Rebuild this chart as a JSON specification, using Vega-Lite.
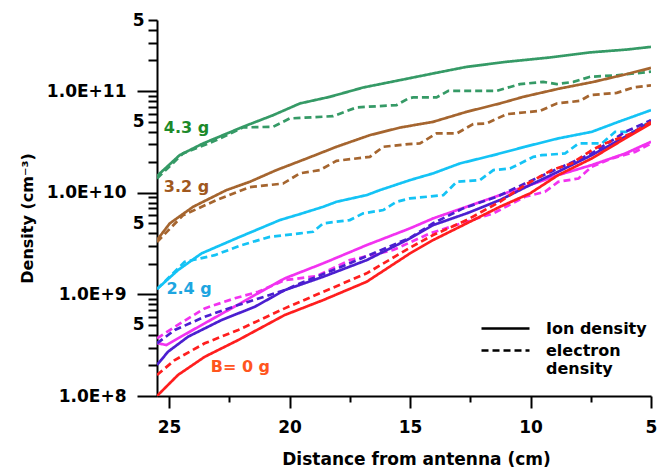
{
  "$schema": "https://vega.github.io/schema/vega-lite/v6.json",
  "width": 494,
  "height": 376,
  "autosize": {"type": "none"},
  "padding": {"left": 157, "top": 20, "right": 7, "bottom": 76},
  "background": "white",
  "config": {"view": {"stroke": null}, "font": "DejaVu Sans"},
  "datasets": {
    "lines": [
      {"B": "4.3 g", "t": "Ion density", "x": 25.5, "y": 1.46e10},
      {"B": "4.3 g", "t": "Ion density", "x": 24.56, "y": 2.34e10},
      {"B": "4.3 g", "t": "Ion density", "x": 23.59, "y": 3.05e10},
      {"B": "4.3 g", "t": "Ion density", "x": 21.93, "y": 4.45e10},
      {"B": "4.3 g", "t": "Ion density", "x": 20.68, "y": 5.79e10},
      {"B": "4.3 g", "t": "Ion density", "x": 19.57, "y": 7.55e10},
      {"B": "4.3 g", "t": "Ion density", "x": 18.33, "y": 8.77e10},
      {"B": "4.3 g", "t": "Ion density", "x": 16.94, "y": 1.084e11},
      {"B": "4.3 g", "t": "Ion density", "x": 15.42, "y": 1.28e11},
      {"B": "4.3 g", "t": "Ion density", "x": 14.04, "y": 1.49e11},
      {"B": "4.3 g", "t": "Ion density", "x": 12.65, "y": 1.73e11},
      {"B": "4.3 g", "t": "Ion density", "x": 10.99, "y": 1.94e11},
      {"B": "4.3 g", "t": "Ion density", "x": 9.19, "y": 2.14e11},
      {"B": "4.3 g", "t": "Ion density", "x": 7.53, "y": 2.40e11},
      {"B": "4.3 g", "t": "Ion density", "x": 6.0, "y": 2.56e11},
      {"B": "4.3 g", "t": "Ion density", "x": 5.0, "y": 2.72e11},

      {"B": "4.3 g", "t": "electron density", "x": 25.5, "y": 1.38e10},
      {"B": "4.3 g", "t": "electron density", "x": 24.42, "y": 2.43e10},
      {"B": "4.3 g", "t": "electron density", "x": 23.03, "y": 3.29e10},
      {"B": "4.3 g", "t": "electron density", "x": 21.93, "y": 4.39e10},
      {"B": "4.3 g", "t": "electron density", "x": 20.68, "y": 4.45e10},
      {"B": "4.3 g", "t": "electron density", "x": 19.99, "y": 5.38e10},
      {"B": "4.3 g", "t": "electron density", "x": 18.19, "y": 5.66e10},
      {"B": "4.3 g", "t": "electron density", "x": 17.22, "y": 6.90e10},
      {"B": "4.3 g", "t": "electron density", "x": 15.56, "y": 7.27e10},
      {"B": "4.3 g", "t": "electron density", "x": 15.07, "y": 8.46e10},
      {"B": "4.3 g", "t": "electron density", "x": 14.87, "y": 8.65e10},
      {"B": "4.3 g", "t": "electron density", "x": 13.9, "y": 8.65e10},
      {"B": "4.3 g", "t": "electron density", "x": 13.41, "y": 1.005e11},
      {"B": "4.3 g", "t": "electron density", "x": 11.4, "y": 1.005e11},
      {"B": "4.3 g", "t": "electron density", "x": 10.44, "y": 1.17e11},
      {"B": "4.3 g", "t": "electron density", "x": 9.47, "y": 1.23e11},
      {"B": "4.3 g", "t": "electron density", "x": 8.91, "y": 1.17e11},
      {"B": "4.3 g", "t": "electron density", "x": 8.22, "y": 1.23e11},
      {"B": "4.3 g", "t": "electron density", "x": 7.53, "y": 1.38e11},
      {"B": "4.3 g", "t": "electron density", "x": 6.42, "y": 1.43e11},
      {"B": "4.3 g", "t": "electron density", "x": 5.0, "y": 1.55e11},

      {"B": "3.2 g", "t": "Ion density", "x": 25.5, "y": 3.42e9},
      {"B": "3.2 g", "t": "Ion density", "x": 24.97, "y": 4.99e9},
      {"B": "3.2 g", "t": "Ion density", "x": 24.0, "y": 7.27e9},
      {"B": "3.2 g", "t": "Ion density", "x": 22.62, "y": 1.06e10},
      {"B": "3.2 g", "t": "Ion density", "x": 21.65, "y": 1.28e10},
      {"B": "3.2 g", "t": "Ion density", "x": 20.54, "y": 1.67e10},
      {"B": "3.2 g", "t": "Ion density", "x": 19.29, "y": 2.17e10},
      {"B": "3.2 g", "t": "Ion density", "x": 18.05, "y": 2.83e10},
      {"B": "3.2 g", "t": "Ion density", "x": 16.67, "y": 3.68e10},
      {"B": "3.2 g", "t": "Ion density", "x": 15.42, "y": 4.37e10},
      {"B": "3.2 g", "t": "Ion density", "x": 14.04, "y": 4.98e10},
      {"B": "3.2 g", "t": "Ion density", "x": 12.65, "y": 6.25e10},
      {"B": "3.2 g", "t": "Ion density", "x": 11.27, "y": 7.55e10},
      {"B": "3.2 g", "t": "Ion density", "x": 10.3, "y": 8.77e10},
      {"B": "3.2 g", "t": "Ion density", "x": 8.78, "y": 1.06e11},
      {"B": "3.2 g", "t": "Ion density", "x": 7.39, "y": 1.23e11},
      {"B": "3.2 g", "t": "Ion density", "x": 6.0, "y": 1.47e11},
      {"B": "3.2 g", "t": "Ion density", "x": 5.0, "y": 1.69e11},

      {"B": "3.2 g", "t": "electron density", "x": 25.5, "y": 3.27e9},
      {"B": "3.2 g", "t": "electron density", "x": 24.42, "y": 6.0e9},
      {"B": "3.2 g", "t": "electron density", "x": 23.03, "y": 8.46e9},
      {"B": "3.2 g", "t": "electron density", "x": 21.65, "y": 1.135e10},
      {"B": "3.2 g", "t": "electron density", "x": 20.27, "y": 1.23e10},
      {"B": "3.2 g", "t": "electron density", "x": 19.57, "y": 1.55e10},
      {"B": "3.2 g", "t": "electron density", "x": 18.74, "y": 1.67e10},
      {"B": "3.2 g", "t": "electron density", "x": 18.05, "y": 2.06e10},
      {"B": "3.2 g", "t": "electron density", "x": 16.67, "y": 2.25e10},
      {"B": "3.2 g", "t": "electron density", "x": 16.11, "y": 2.83e10},
      {"B": "3.2 g", "t": "electron density", "x": 15.07, "y": 3.01e10},
      {"B": "3.2 g", "t": "electron density", "x": 14.59, "y": 3.05e10},
      {"B": "3.2 g", "t": "electron density", "x": 13.9, "y": 3.83e10},
      {"B": "3.2 g", "t": "electron density", "x": 13.06, "y": 3.83e10},
      {"B": "3.2 g", "t": "electron density", "x": 12.38, "y": 4.73e10},
      {"B": "3.2 g", "t": "electron density", "x": 11.82, "y": 4.8e10},
      {"B": "3.2 g", "t": "electron density", "x": 10.99, "y": 5.93e10},
      {"B": "3.2 g", "t": "electron density", "x": 9.61, "y": 6.38e10},
      {"B": "3.2 g", "t": "electron density", "x": 8.91, "y": 7.55e10},
      {"B": "3.2 g", "t": "electron density", "x": 7.94, "y": 8.01e10},
      {"B": "3.2 g", "t": "electron density", "x": 7.53, "y": 9.12e10},
      {"B": "3.2 g", "t": "electron density", "x": 6.42, "y": 9.6e10},
      {"B": "3.2 g", "t": "electron density", "x": 5.73, "y": 1.084e11},
      {"B": "3.2 g", "t": "electron density", "x": 5.0, "y": 1.14e11},

      {"B": "2.4 g", "t": "Ion density", "x": 25.5, "y": 1.127e9},
      {"B": "2.4 g", "t": "Ion density", "x": 24.63, "y": 1.73e9},
      {"B": "2.4 g", "t": "Ion density", "x": 23.65, "y": 2.53e9},
      {"B": "2.4 g", "t": "Ion density", "x": 22.13, "y": 3.62e9},
      {"B": "2.4 g", "t": "Ion density", "x": 20.4, "y": 5.38e9},
      {"B": "2.4 g", "t": "Ion density", "x": 19.57, "y": 6.16e9},
      {"B": "2.4 g", "t": "Ion density", "x": 18.6, "y": 7.27e9},
      {"B": "2.4 g", "t": "Ion density", "x": 18.05, "y": 8.14e9},
      {"B": "2.4 g", "t": "Ion density", "x": 16.8, "y": 9.47e9},
      {"B": "2.4 g", "t": "Ion density", "x": 16.25, "y": 1.06e10},
      {"B": "2.4 g", "t": "Ion density", "x": 15.0, "y": 1.33e10},
      {"B": "2.4 g", "t": "Ion density", "x": 14.04, "y": 1.55e10},
      {"B": "2.4 g", "t": "Ion density", "x": 12.93, "y": 1.94e10},
      {"B": "2.4 g", "t": "Ion density", "x": 11.54, "y": 2.34e10},
      {"B": "2.4 g", "t": "Ion density", "x": 10.23, "y": 2.83e10},
      {"B": "2.4 g", "t": "Ion density", "x": 8.85, "y": 3.42e10},
      {"B": "2.4 g", "t": "Ion density", "x": 7.46, "y": 3.97e10},
      {"B": "2.4 g", "t": "Ion density", "x": 6.35, "y": 4.98e10},
      {"B": "2.4 g", "t": "Ion density", "x": 5.0, "y": 6.49e10},

      {"B": "2.4 g", "t": "electron density", "x": 25.5, "y": 1.127e9},
      {"B": "2.4 g", "t": "electron density", "x": 24.35, "y": 2.09e9},
      {"B": "2.4 g", "t": "electron density", "x": 23.1, "y": 2.43e9},
      {"B": "2.4 g", "t": "electron density", "x": 21.99, "y": 3.05e9},
      {"B": "2.4 g", "t": "electron density", "x": 20.82, "y": 3.68e9},
      {"B": "2.4 g", "t": "electron density", "x": 19.57, "y": 3.98e9},
      {"B": "2.4 g", "t": "electron density", "x": 19.02, "y": 4.13e9},
      {"B": "2.4 g", "t": "electron density", "x": 18.6, "y": 4.99e9},
      {"B": "2.4 g", "t": "electron density", "x": 17.5, "y": 5.38e9},
      {"B": "2.4 g", "t": "electron density", "x": 16.94, "y": 6.26e9},
      {"B": "2.4 g", "t": "electron density", "x": 16.11, "y": 6.75e9},
      {"B": "2.4 g", "t": "electron density", "x": 15.56, "y": 8.14e9},
      {"B": "2.4 g", "t": "electron density", "x": 15.0, "y": 8.79e9},
      {"B": "2.4 g", "t": "electron density", "x": 13.62, "y": 9.47e9},
      {"B": "2.4 g", "t": "electron density", "x": 13.06, "y": 1.28e10},
      {"B": "2.4 g", "t": "electron density", "x": 12.1, "y": 1.33e10},
      {"B": "2.4 g", "t": "electron density", "x": 11.54, "y": 1.67e10},
      {"B": "2.4 g", "t": "electron density", "x": 10.85, "y": 1.73e10},
      {"B": "2.4 g", "t": "electron density", "x": 9.88, "y": 2.25e10},
      {"B": "2.4 g", "t": "electron density", "x": 9.54, "y": 2.34e10},
      {"B": "2.4 g", "t": "electron density", "x": 8.57, "y": 2.43e10},
      {"B": "2.4 g", "t": "electron density", "x": 8.01, "y": 3.05e10},
      {"B": "2.4 g", "t": "electron density", "x": 7.04, "y": 3.05e10},
      {"B": "2.4 g", "t": "electron density", "x": 6.49, "y": 3.97e10},
      {"B": "2.4 g", "t": "electron density", "x": 5.66, "y": 3.97e10},
      {"B": "2.4 g", "t": "electron density", "x": 5.0, "y": 5.17e10},

      {"B": "unlabelled 1", "t": "Ion density", "x": 25.5, "y": 3.32e8},
      {"B": "unlabelled 1", "t": "Ion density", "x": 25.11, "y": 3.17e8},
      {"B": "unlabelled 1", "t": "Ion density", "x": 24.63, "y": 3.69e8},
      {"B": "unlabelled 1", "t": "Ion density", "x": 23.52, "y": 5.19e8},
      {"B": "unlabelled 1", "t": "Ion density", "x": 22.41, "y": 7.28e8},
      {"B": "unlabelled 1", "t": "Ion density", "x": 21.44, "y": 9.84e8},
      {"B": "unlabelled 1", "t": "Ion density", "x": 20.2, "y": 1.436e9},
      {"B": "unlabelled 1", "t": "Ion density", "x": 18.6, "y": 2.02e9},
      {"B": "unlabelled 1", "t": "Ion density", "x": 16.8, "y": 3.05e9},
      {"B": "unlabelled 1", "t": "Ion density", "x": 15.0, "y": 4.46e9},
      {"B": "unlabelled 1", "t": "Ion density", "x": 14.04, "y": 5.59e9},
      {"B": "unlabelled 1", "t": "Ion density", "x": 12.65, "y": 7.27e9},
      {"B": "unlabelled 1", "t": "Ion density", "x": 11.27, "y": 9.47e9},
      {"B": "unlabelled 1", "t": "Ion density", "x": 10.02, "y": 1.19e10},
      {"B": "unlabelled 1", "t": "Ion density", "x": 8.85, "y": 1.49e10},
      {"B": "unlabelled 1", "t": "Ion density", "x": 7.46, "y": 1.87e10},
      {"B": "unlabelled 1", "t": "Ion density", "x": 6.07, "y": 2.43e10},
      {"B": "unlabelled 1", "t": "Ion density", "x": 5.0, "y": 3.17e10},

      {"B": "unlabelled 1", "t": "electron density", "x": 25.5, "y": 3.69e8},
      {"B": "unlabelled 1", "t": "electron density", "x": 24.76, "y": 4.8e8},
      {"B": "unlabelled 1", "t": "electron density", "x": 23.52, "y": 7.28e8},
      {"B": "unlabelled 1", "t": "electron density", "x": 22.27, "y": 9.14e8},
      {"B": "unlabelled 1", "t": "electron density", "x": 21.3, "y": 1.06e9},
      {"B": "unlabelled 1", "t": "electron density", "x": 20.2, "y": 1.38e9},
      {"B": "unlabelled 1", "t": "electron density", "x": 18.88, "y": 1.51e9},
      {"B": "unlabelled 1", "t": "electron density", "x": 17.5, "y": 2.17e9},
      {"B": "unlabelled 1", "t": "electron density", "x": 15.7, "y": 2.73e9},
      {"B": "unlabelled 1", "t": "electron density", "x": 14.17, "y": 3.98e9},
      {"B": "unlabelled 1", "t": "electron density", "x": 12.65, "y": 5.18e9},
      {"B": "unlabelled 1", "t": "electron density", "x": 11.54, "y": 6.26e9},
      {"B": "unlabelled 1", "t": "electron density", "x": 10.23, "y": 9.12e9},
      {"B": "unlabelled 1", "t": "electron density", "x": 9.4, "y": 1.02e10},
      {"B": "unlabelled 1", "t": "electron density", "x": 8.85, "y": 1.28e10},
      {"B": "unlabelled 1", "t": "electron density", "x": 8.01, "y": 1.38e10},
      {"B": "unlabelled 1", "t": "electron density", "x": 7.46, "y": 1.8e10},
      {"B": "unlabelled 1", "t": "electron density", "x": 6.63, "y": 2.17e10},
      {"B": "unlabelled 1", "t": "electron density", "x": 5.66, "y": 2.52e10},
      {"B": "unlabelled 1", "t": "electron density", "x": 5.0, "y": 3.05e10},

      {"B": "unlabelled 2", "t": "Ion density", "x": 25.5, "y": 2.02e8},
      {"B": "unlabelled 2", "t": "Ion density", "x": 25.04, "y": 2.73e8},
      {"B": "unlabelled 2", "t": "Ion density", "x": 24.21, "y": 3.83e8},
      {"B": "unlabelled 2", "t": "Ion density", "x": 22.82, "y": 5.59e8},
      {"B": "unlabelled 2", "t": "Ion density", "x": 21.44, "y": 7.55e8},
      {"B": "unlabelled 2", "t": "Ion density", "x": 20.2, "y": 1.1e9},
      {"B": "unlabelled 2", "t": "Ion density", "x": 18.6, "y": 1.49e9},
      {"B": "unlabelled 2", "t": "Ion density", "x": 16.8, "y": 2.17e9},
      {"B": "unlabelled 2", "t": "Ion density", "x": 15.0, "y": 3.55e9},
      {"B": "unlabelled 2", "t": "Ion density", "x": 14.04, "y": 4.8e9},
      {"B": "unlabelled 2", "t": "Ion density", "x": 12.65, "y": 6.26e9},
      {"B": "unlabelled 2", "t": "Ion density", "x": 11.27, "y": 8.46e9},
      {"B": "unlabelled 2", "t": "Ion density", "x": 10.02, "y": 1.19e10},
      {"B": "unlabelled 2", "t": "Ion density", "x": 8.85, "y": 1.61e10},
      {"B": "unlabelled 2", "t": "Ion density", "x": 7.46, "y": 2.34e10},
      {"B": "unlabelled 2", "t": "Ion density", "x": 6.07, "y": 3.55e10},
      {"B": "unlabelled 2", "t": "Ion density", "x": 5.0, "y": 4.98e10},

      {"B": "unlabelled 2", "t": "electron density", "x": 25.5, "y": 3.3e8},
      {"B": "unlabelled 2", "t": "electron density", "x": 24.76, "y": 4.46e8},
      {"B": "unlabelled 2", "t": "electron density", "x": 23.52, "y": 6.02e8},
      {"B": "unlabelled 2", "t": "electron density", "x": 22.13, "y": 7.85e8},
      {"B": "unlabelled 2", "t": "electron density", "x": 20.2, "y": 1.1e9},
      {"B": "unlabelled 2", "t": "electron density", "x": 19.57, "y": 1.28e9},
      {"B": "unlabelled 2", "t": "electron density", "x": 17.5, "y": 2.02e9},
      {"B": "unlabelled 2", "t": "electron density", "x": 15.0, "y": 3.6e9},
      {"B": "unlabelled 2", "t": "electron density", "x": 14.04, "y": 5.0e9},
      {"B": "unlabelled 2", "t": "electron density", "x": 12.8, "y": 7.01e9},
      {"B": "unlabelled 2", "t": "electron density", "x": 11.4, "y": 9.12e9},
      {"B": "unlabelled 2", "t": "electron density", "x": 10.23, "y": 1.23e10},
      {"B": "unlabelled 2", "t": "electron density", "x": 8.85, "y": 1.73e10},
      {"B": "unlabelled 2", "t": "electron density", "x": 7.46, "y": 2.43e10},
      {"B": "unlabelled 2", "t": "electron density", "x": 6.07, "y": 3.97e10},
      {"B": "unlabelled 2", "t": "electron density", "x": 5.0, "y": 5.17e10},

      {"B": "0 g", "t": "Ion density", "x": 25.5, "y": 1.0e8},
      {"B": "0 g", "t": "Ion density", "x": 24.63, "y": 1.61e8},
      {"B": "0 g", "t": "Ion density", "x": 23.52, "y": 2.43e8},
      {"B": "0 g", "t": "Ion density", "x": 22.13, "y": 3.55e8},
      {"B": "0 g", "t": "Ion density", "x": 20.2, "y": 6.26e8},
      {"B": "0 g", "t": "Ion density", "x": 18.6, "y": 8.79e8},
      {"B": "0 g", "t": "Ion density", "x": 16.8, "y": 1.33e9},
      {"B": "0 g", "t": "Ion density", "x": 15.0, "y": 2.53e9},
      {"B": "0 g", "t": "Ion density", "x": 14.04, "y": 3.42e9},
      {"B": "0 g", "t": "Ion density", "x": 12.65, "y": 4.99e9},
      {"B": "0 g", "t": "Ion density", "x": 11.27, "y": 7.27e9},
      {"B": "0 g", "t": "Ion density", "x": 10.02, "y": 9.84e9},
      {"B": "0 g", "t": "Ion density", "x": 8.85, "y": 1.49e10},
      {"B": "0 g", "t": "Ion density", "x": 7.46, "y": 2.17e10},
      {"B": "0 g", "t": "Ion density", "x": 6.07, "y": 3.42e10},
      {"B": "0 g", "t": "Ion density", "x": 5.0, "y": 4.8e10},

      {"B": "0 g", "t": "electron density", "x": 25.5, "y": 1.61e8},
      {"B": "0 g", "t": "electron density", "x": 24.76, "y": 2.26e8},
      {"B": "0 g", "t": "electron density", "x": 23.52, "y": 3.3e8},
      {"B": "0 g", "t": "electron density", "x": 22.13, "y": 4.46e8},
      {"B": "0 g", "t": "electron density", "x": 20.2, "y": 7.28e8},
      {"B": "0 g", "t": "electron density", "x": 18.6, "y": 1.06e9},
      {"B": "0 g", "t": "electron density", "x": 16.8, "y": 1.61e9},
      {"B": "0 g", "t": "electron density", "x": 15.0, "y": 2.88e9},
      {"B": "0 g", "t": "electron density", "x": 14.04, "y": 3.83e9},
      {"B": "0 g", "t": "electron density", "x": 12.65, "y": 5.38e9},
      {"B": "0 g", "t": "electron density", "x": 11.27, "y": 8.14e9},
      {"B": "0 g", "t": "electron density", "x": 10.23, "y": 1.19e10},
      {"B": "0 g", "t": "electron density", "x": 9.12, "y": 1.67e10},
      {"B": "0 g", "t": "electron density", "x": 8.29, "y": 1.94e10},
      {"B": "0 g", "t": "electron density", "x": 7.46, "y": 2.62e10},
      {"B": "0 g", "t": "electron density", "x": 6.91, "y": 3.05e10},
      {"B": "0 g", "t": "electron density", "x": 5.8, "y": 3.83e10},
      {"B": "0 g", "t": "electron density", "x": 5.0, "y": 4.98e10}
    ],
    "labels": [
      {"label": "4.3 g", "x": 25.22, "y": 4.33e10},
      {"label": "3.2 g", "x": 25.22, "y": 1.15e10},
      {"label": "2.4 g", "x": 25.11, "y": 1.14e9},
      {"label": "B= 0 g", "x": 23.27, "y": 1.91e8}
    ]
  },
  "layer": [
    {
      "data": {"name": "lines"},
      "mark": {"type": "line", "strokeWidth": 2.7, "clip": true},
      "encoding": {
        "x": {
          "field": "x",
          "type": "quantitative",
          "scale": {"domain": [5, 25.5], "reverse": true, "nice": false, "zero": false},
          "axis": {
            "values": [25, 22.5, 20, 17.5, 15, 12.5, 10, 7.5, 5],
            "labelExpr": "datum.value % 5 == 0 ? datum.label : ''",
            "tickSize": {"condition": {"test": "datum.value % 5 == 0", "value": 12}, "value": 6},
            "tickWidth": 2,
            "tickColor": "black",
            "domainWidth": 2,
            "domainColor": "black",
            "grid": false,
            "labelFlush": false,
            "labelOverlap": false,
            "labelFont": "DejaVu Sans",
            "labelFontWeight": "bold",
            "labelFontSize": 17,
            "labelColor": "black",
            "labelPadding": 11,
            "title": "Distance from antenna (cm)",
            "titleFont": "DejaVu Sans",
            "titleFontSize": 17,
            "titleFontWeight": "bold",
            "titleColor": "black",
            "titleX": 259,
            "titleY": 55
          }
        },
        "y": {
          "field": "y",
          "type": "quantitative",
          "scale": {"type": "log", "domain": [1e8, 5e11], "nice": false},
          "axis": {
            "values": [1e8, 2e8, 3e8, 4e8, 5e8, 6e8, 7e8, 8e8, 9e8, 1e9, 2e9, 3e9, 4e9, 5e9, 6e9, 7e9, 8e9, 9e9, 1e10, 2e10, 3e10, 4e10, 5e10, 6e10, 7e10, 8e10, 9e10, 1e11, 2e11, 3e11, 4e11, 5e11],
            "labelExpr": "abs(log(datum.value)/LN10 - round(log(datum.value)/LN10)) < 1e-6 ? '1.0E+' + round(log(datum.value)/LN10) : (abs(datum.value / pow(10, floor(log(datum.value)/LN10 + 1e-9)) - 5) < 1e-6 ? '5' : '')",
            "tickSize": {"condition": {"test": "abs(log(datum.value)/LN10 - round(log(datum.value)/LN10)) < 1e-6", "value": 20}, "value": 9},
            "labelPadding": {"condition": {"test": "abs(log(datum.value)/LN10 - round(log(datum.value)/LN10)) < 1e-6", "value": 11}, "value": 4},
            "tickWidth": 2,
            "tickColor": "black",
            "domainWidth": 2,
            "domainColor": "black",
            "grid": false,
            "labelFlush": false,
            "labelOverlap": false,
            "labelFont": "DejaVu Sans",
            "labelFontWeight": "bold",
            "labelFontSize": 17,
            "labelColor": "black",
            "title": "Density (cm⁻³)",
            "titleFont": "DejaVu Sans",
            "titleFontSize": 16,
            "titleFontWeight": "bold",
            "titleColor": "black",
            "titleX": -122,
            "titleY": 198
          }
        },
        "color": {
          "field": "B",
          "type": "nominal",
          "scale": {
            "domain": ["4.3 g", "3.2 g", "2.4 g", "unlabelled 1", "unlabelled 2", "0 g"],
            "range": ["#359a66", "#a5652f", "#14c3f5", "#f232f0", "#4b1fd0", "#ff1e1e"]
          },
          "legend": null
        },
        "strokeDash": {
          "field": "t",
          "type": "nominal",
          "scale": {"domain": ["Ion density", "electron density"], "range": [[1, 0], [7, 4]]},
          "legend": {
            "orient": "none",
            "legendX": 339,
            "legendY": 299,
            "title": null,
            "padding": 0,
            "symbolType": "M-3,0H3",
            "symbolSize": 256,
            "symbolStrokeWidth": 2.5,
            "symbolStrokeColor": "black",
            "labelFont": "DejaVu Sans",
            "labelFontWeight": "bold",
            "labelFontSize": 16,
            "labelColor": "black",
            "labelOffset": 31,
            "labelLimit": 300,
            "rowPadding": 4,
            "labelExpr": "datum.label == 'electron density' ? ['electron', 'density'] : datum.label"
          }
        }
      }
    },
    {
      "data": {"name": "labels"},
      "mark": {"type": "text", "align": "left", "baseline": "middle", "font": "DejaVu Sans", "fontWeight": "bold", "fontSize": 16},
      "encoding": {
        "x": {"field": "x", "type": "quantitative"},
        "y": {"field": "y", "type": "quantitative"},
        "text": {"field": "label"},
        "fill": {
          "field": "label",
          "type": "nominal",
          "scale": {"domain": ["4.3 g", "3.2 g", "2.4 g", "B= 0 g"], "range": ["#1d8a2a", "#a0581e", "#1ea5e0", "#ff551e"]},
          "legend": null
        }
      }
    }
  ]
}
